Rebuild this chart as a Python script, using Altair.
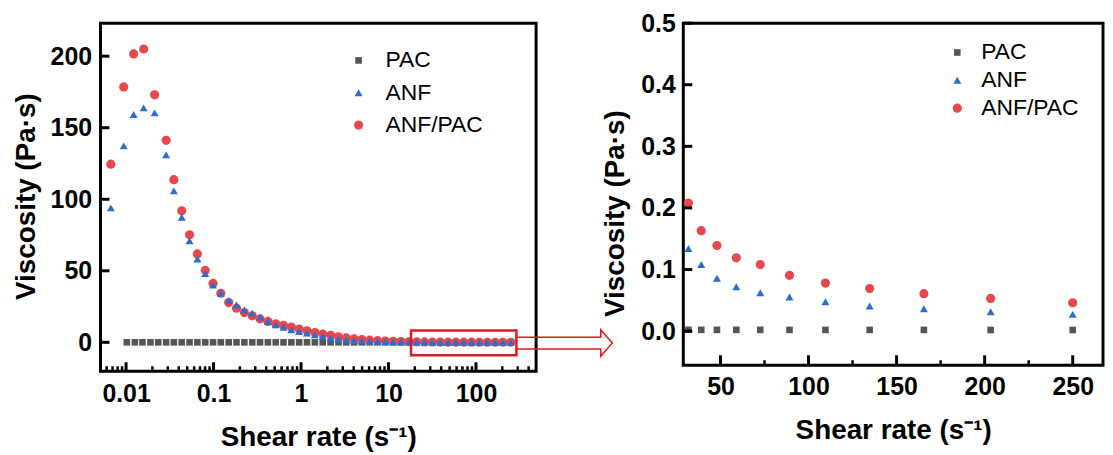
import altair as alt
import pandas as pd

# ---------------- data ----------------
SERIES = ["PAC", "ANF", "ANF/PAC"]
COLORS = ["#555555", "#2B6FCE", "#E8474C"]
SHAPES = ["square", "triangle-up", "circle"]
SIZES = [44, 85, 62]
BOX_RED = "#E5161D"

SHEAR_ANF = [0.0067, 0.0094, 0.0122, 0.0159, 0.0212, 0.0287, 0.0352, 0.0433,
             0.0532, 0.0653, 0.0803, 0.0987, 0.121, 0.149, 0.183, 0.225, 0.277,
             0.340, 0.418, 0.514, 0.631, 0.776, 0.953, 1.17, 1.44, 1.77, 2.18,
             2.68, 3.29, 4.04, 4.97, 6.10, 7.50, 9.22, 11.3, 13.9, 17.1, 21.0,
             25.9, 31.8, 39.1, 48.0, 59.0, 72.6, 89.2, 109.6, 134.7, 165.5, 203.4, 250.0]

VISC_ANF = [94.0, 137.3, 159.2, 163.9, 160.4, 131.0, 106.0, 87.4, 71.0, 58.3,
            48.0, 40.0, 34.3, 29.2, 26.2, 22.7, 20.4, 17.6, 14.6, 12.3,
            10.6, 8.8, 7.6, 6.5, 5.3, 4.2, 3.0, 2.3, 1.75, 1.35,
            1.05, 0.82, 0.64, 0.50, 0.39, 0.31, 0.25, 0.20, 0.165, 0.134,
            0.108, 0.0857, 0.072, 0.0623, 0.0553, 0.0477, 0.0407, 0.0363, 0.0314, 0.0271]

VISC_ANF_PAC = [124.5, 178.5, 201.6, 205.0, 173.0, 141.2, 113.7, 91.9, 75.2, 61.8,
                50.3, 41.2, 34.3, 27.8, 23.8, 20.8, 18.5, 16.4, 14.6, 13.0,
                11.9, 10.7, 9.3, 8.1, 6.9, 5.8, 4.9, 3.9, 3.1, 2.4,
                1.9, 1.5, 1.15, 0.90, 0.70, 0.55, 0.43, 0.34, 0.27, 0.208,
                0.163, 0.139, 0.119, 0.108, 0.0905, 0.078, 0.069, 0.0607, 0.053, 0.046]

SHEAR_PAC = [0.0102, 0.0126, 0.0154, 0.0190, 0.0233] + SHEAR_ANF[5:]

VISC_PAC = [0.0048, 0.0046, 0.0044, 0.0043, 0.0041, 0.0040, 0.0038, 0.0037, 0.0036, 0.0035,
            0.0034, 0.0033, 0.0032, 0.0031, 0.0031, 0.0030, 0.0029, 0.0029, 0.0028, 0.0028,
            0.0027, 0.0027, 0.0026, 0.0026, 0.0025, 0.0025, 0.0025, 0.0024, 0.0024, 0.0024,
            0.0023, 0.0023, 0.0023, 0.0022, 0.0022, 0.0022, 0.0021, 0.0021, 0.0021, 0.0021,
            0.0020, 0.0020, 0.0020, 0.0020, 0.0019, 0.0019, 0.0019, 0.0019, 0.0018, 0.0018]

# axis ticks
LEFT_X_TICKS = [0.01, 0.1, 1, 10, 100]
LEFT_X_MINOR = [m * 10.0 ** k for k in range(-3, 3) for m in range(2, 10)
                if 0.0051 <= m * 10.0 ** k <= 487]
LEFT_Y_TICKS = [0, 50, 100, 150, 200]
RIGHT_X_TICKS = [50, 100, 150, 200, 250]
RIGHT_X_MINOR = [75, 125, 175, 225]
RIGHT_Y_TICKS = [0.0, 0.1, 0.2, 0.3, 0.4, 0.5]

# zoom box and arrow annotation (left-panel data units)
ZOOM_BOX_X = [18.1, 290.0]
ZOOM_BOX_Y = [-9.0, 8.3]
ARROW_X = [290.0, 2670.0, 2670.0, 3620.0, 2670.0, 2670.0, 290.0]
ARROW_Y = [3.5, 3.5, 8.8, -0.5, -9.7, -4.7, -4.7]

# ---------------- tables ----------------
df = pd.concat([
    pd.DataFrame({"shear": SHEAR_PAC, "visc": VISC_PAC, "series": "PAC"}),
    pd.DataFrame({"shear": SHEAR_ANF, "visc": VISC_ANF_PAC, "series": "ANF/PAC"}),
    pd.DataFrame({"shear": SHEAR_ANF, "visc": VISC_ANF, "series": "ANF"}),
], ignore_index=True)

box_df = pd.DataFrame({"x0": [ZOOM_BOX_X[0]], "x1": [ZOOM_BOX_X[1]],
                       "y0": [ZOOM_BOX_Y[0]], "y1": [ZOOM_BOX_Y[1]]})
arrow_df = pd.DataFrame({"ax": ARROW_X, "ay": ARROW_Y, "step": list(range(len(ARROW_X)))})

FONT = "Liberation Sans"
LW, LH = 438, 350      # left plot size
RW, RH = 422, 344      # right plot size


def make_legend(x, y, row_pad, label_off):
    return alt.Legend(orient="none", legendX=x, legendY=y, title=None,
                      labelFont=FONT, labelFontSize=23, labelColor="black",
                      symbolSize=45, symbolStrokeWidth=0, rowPadding=row_pad,
                      labelOffset=label_off, padding=0)


def series_enc(legend):
    return dict(
        color=alt.Color("series:N", scale=alt.Scale(domain=SERIES, range=COLORS), legend=legend),
        shape=alt.Shape("series:N", scale=alt.Scale(domain=SERIES, range=SHAPES), legend=legend),
        size=alt.Size("series:N", scale=alt.Scale(domain=SERIES, range=SIZES), legend=None),
    )


def x_ticks(values, scale, axis, height, length, w=3):
    # inward tick marks on the bottom edge, placed through the x scale
    return alt.Chart(pd.DataFrame({"v": values})).mark_rule(
        color="black", strokeWidth=w, opacity=1).encode(
        x=alt.X("v:Q", scale=scale, axis=axis),
        y=alt.value(height), y2=alt.value(height - length))


def y_ticks(values, scale, axis, length, w=3):
    # inward tick marks on the left edge, placed through the y scale
    return alt.Chart(pd.DataFrame({"v": values})).mark_rule(
        color="black", strokeWidth=w, opacity=1).encode(
        y=alt.Y("v:Q", scale=scale, axis=axis),
        x=alt.value(0), x2=alt.value(length))


# ---------------- left panel ----------------
lx = alt.Scale(type="log", domain=[0.0051, 487], nice=False)
ly = alt.Scale(domain=[-20.2, 223.1], nice=False, zero=False)

left_x_axis = alt.Axis(
    values=LEFT_X_TICKS, format="~g", ticks=False, labelPadding=10,
    labelFlush=False, labelOverlap=False,
    title="Shear rate (s⁻¹)", titleY=53, titleBaseline="top",
)
left_y_axis = alt.Axis(
    values=LEFT_Y_TICKS, ticks=False, labelPadding=9,
    labelFlush=False, labelOverlap=False,
    title="Viscosity (Pa·s)", titleX=-60, titleY=174, titleBaseline="bottom",
)

left_points = alt.Chart(df).mark_point(filled=True, opacity=1, strokeWidth=0).encode(
    x=alt.X("shear:Q", scale=lx, axis=left_x_axis),
    y=alt.Y("visc:Q", scale=ly, axis=left_y_axis),
    **series_enc(make_legend(248, 26, 8.5, 15.5)),
)
box = alt.Chart(box_df).mark_rect(fillOpacity=0, stroke=BOX_RED, strokeWidth=2.5).encode(
    x=alt.X("x0:Q", scale=lx, axis=left_x_axis), x2="x1:Q",
    y=alt.Y("y0:Q", scale=ly, axis=left_y_axis), y2="y1:Q",
)
arrow = alt.Chart(arrow_df).mark_line(color=BOX_RED, strokeWidth=1.5).encode(
    x=alt.X("ax:Q", scale=lx, axis=left_x_axis),
    y=alt.Y("ay:Q", scale=ly, axis=left_y_axis),
    order="step:Q",
)
left = alt.layer(
    left_points, box, arrow,
    x_ticks(LEFT_X_TICKS, lx, left_x_axis, LH, 9),
    x_ticks(LEFT_X_MINOR, lx, left_x_axis, LH, 5, 2.5),
    y_ticks(LEFT_Y_TICKS, ly, left_y_axis, 9),
).properties(width=LW, height=LH)

# ---------------- right panel ----------------
rx = alt.Scale(domain=[28.9, 267.2], nice=False, zero=False)
ry = alt.Scale(domain=[-0.0555, 0.5], nice=False, zero=False)

right_x_axis = alt.Axis(
    values=RIGHT_X_TICKS, format="d", ticks=False, labelPadding=9,
    labelFlush=False, labelOverlap=False,
    title="Shear rate (s⁻¹)", titleY=52, titleBaseline="top",
)
right_y_axis = alt.Axis(
    values=RIGHT_Y_TICKS, format=".1f", ticks=False, labelPadding=8,
    labelFlush=False, labelOverlap=False,
    title="Viscosity (Pa·s)", titleX=-54, titleY=191, titleBaseline="bottom",
)

right_points = alt.Chart(df).transform_filter(alt.datum.shear >= 28.9).mark_point(
    filled=True, opacity=1, strokeWidth=0
).encode(
    x=alt.X("shear:Q", scale=rx, axis=right_x_axis),
    y=alt.Y("visc:Q", scale=ry, axis=right_y_axis),
    **series_enc(make_legend(264, 18, 4, 12.5)),
)
right = alt.layer(
    right_points,
    x_ticks(RIGHT_X_TICKS, rx, right_x_axis, RH, 10),
    x_ticks(RIGHT_X_MINOR, rx, right_x_axis, RH, 5, 2.5),
    y_ticks(RIGHT_Y_TICKS, ry, right_y_axis, 9),
).properties(width=RW, height=RH)

chart = alt.hconcat(left, right, spacing=148, bounds="flush").resolve_scale(
    x="independent", y="independent", color="independent",
    shape="independent", size="independent",
).resolve_legend(color="independent", shape="independent").properties(
    padding={"left": 3, "top": 0, "right": 0, "bottom": 0},
    background="white",
).configure_view(stroke="black", strokeWidth=3).configure_axis(
    labelFont=FONT, labelFontWeight="bold", labelFontSize=25, labelColor="black",
    titleFont=FONT, titleFontWeight="bold", titleFontSize=28, titleColor="black",
    domain=False, grid=False,
)

chart.save("out.html", embed_options={"renderer": "svg", "actions": False})
